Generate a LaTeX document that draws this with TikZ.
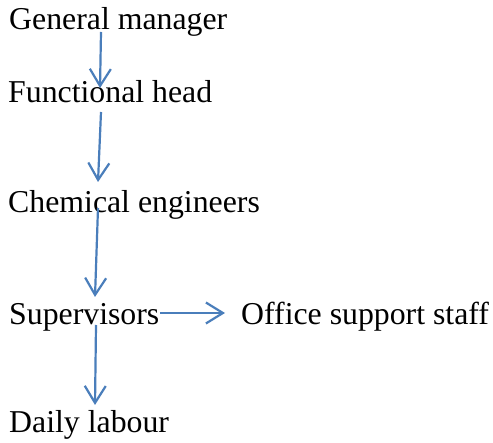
\documentclass[tikz,border=0pt]{standalone}
\usepackage{fontspec}
\setmainfont{Liberation Serif}
\usetikzlibrary{arrows.meta}
\definecolor{arrowblue}{HTML}{4A7EBB}
\tikzset{
  lbl/.style={anchor=base west, inner sep=0pt, font=\fontsize{31.8}{38}\selectfont},
  arr/.style={draw=arrowblue, line width=2.2pt, -{Straight Barb[length=17pt,width=21pt,line width=2.2pt]}}
}
\begin{document}
\begin{tikzpicture}[x=1pt,y=1pt]
\useasboundingbox[fill=white] (0,0) rectangle (493,-443);
\node[lbl] (gm) at (9,-30) {General manager};
\node[lbl] (fh) at (8,-103) {Functional head};
\node[lbl] (ce) at (8,-213) {Chemical engineers};
\node[lbl] (sv) at (9,-325) {Supervisors};
\node[lbl] (os) at (241,-325) {Office support staff};
\node[lbl] (dl) at (9,-433) {Daily labour};
\draw[arr] ([shift={(92,-2)}]gm.base west) -- ([shift={(92,15)}]fh.base west);
\draw[arr] ([shift={(93,-9)}]fh.base west) -- ([shift={(90,31)}]ce.base west);
\draw[arr] ([shift={(90,5)}]ce.base west) -- ([shift={(86,28)}]sv.base west);
\draw[arr] ([shift={(151,12)}]sv.base west) -- ([shift={(-16,12)}]os.base west);
\draw[arr] ([shift={(87,0)}]sv.base west) -- ([shift={(86,28)}]dl.base west);
\end{tikzpicture}
\end{document}
